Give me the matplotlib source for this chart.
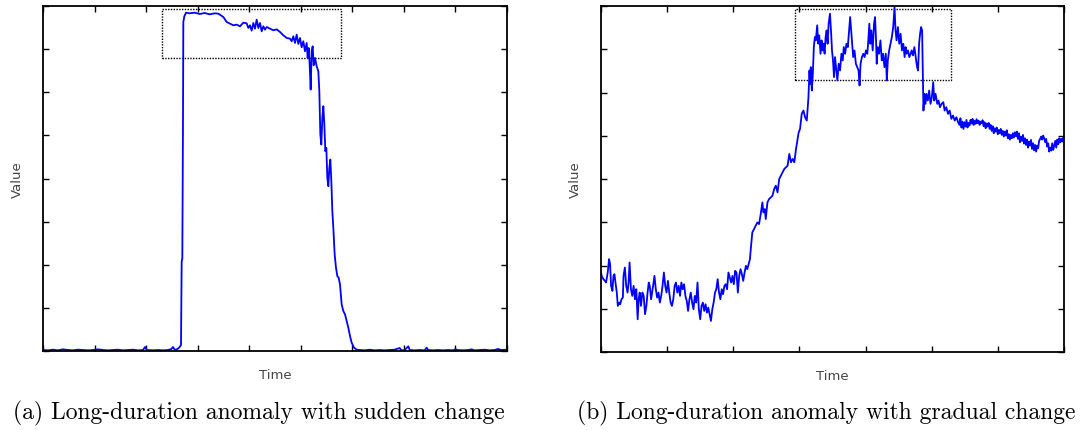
import matplotlib
matplotlib.use("Agg")
import matplotlib.pyplot as plt
from matplotlib.patches import Rectangle

# ---------------- data (a): sudden change ----------------
a_time = [0, 15, 30, 45, 60, 75, 90, 105, 120, 135, 150, 165, 180, 195, 210, 225, 240, 255, 270, 285,
          300, 306, 312, 330, 345, 360, 375, 385, 390, 395, 400, 406, 410, 414, 416, 418, 420, 421, 424,
          429, 440, 455, 470, 485, 500, 515, 526, 541, 551, 561, 571, 581, 591, 601, 611, 616, 621, 626,
          631, 636, 641, 646, 651, 656, 661, 666, 671, 681, 691, 701, 711, 721, 731, 741, 746, 751, 756,
          761, 766, 771, 776, 781, 786, 791, 794, 797, 800, 803, 806, 809, 812, 816, 821, 826, 829, 832,
          835, 838, 841, 844, 847, 850, 853, 856, 859, 862, 865, 868, 871, 875, 879, 883, 887, 891, 896,
          901, 906, 911, 916, 921, 926, 933, 941, 950, 965, 980, 995, 1010, 1025, 1040, 1055, 1070, 1075,
          1085, 1096, 1100, 1115, 1130, 1145, 1151, 1155, 1170, 1185, 1200, 1215, 1230, 1237, 1245, 1260,
          1275, 1286, 1295, 1310, 1325, 1340, 1355, 1365, 1375, 1392]
a_value = [3, 2, 4, 2, 5, 3, 2, 4, 3, 2, 3, 5, 3, 2, 3, 4, 2, 3, 4, 2,
           3, 12, 3, 2, 3, 2, 3, 6, 12, 4, 4, 8, 12, 18, 268, 278, 700, 988, 1005,
           1016, 1014, 1016, 1012, 1015, 1011, 1014, 1013, 1003, 988, 983, 978, 980, 975, 986, 984, 970, 978, 962,
           985, 968, 995, 970, 985, 960, 975, 965, 973, 968, 963, 966, 958, 948, 940, 938, 930, 945, 925,
           950, 922, 940, 912, 930, 900, 925, 880, 910, 860, 785, 900, 915, 858, 880, 855, 840, 780, 650,
           620, 700, 735, 680, 600, 610, 520, 495, 550, 575, 510, 420, 370, 290, 250, 225, 220, 200, 140,
           120, 110, 90, 70, 45, 25, 10, 4, 3, 2, 4, 2, 3, 2, 3, 4, 9, 2,
           3, 14, 3, 2, 3, 2, 10, 3, 2, 3, 2, 3, 2, 5, 3, 2,
           3, 5, 2, 3, 4, 2, 3, 6, 3, 4]
a_box = [358, 894, 879, 1027]   # time from, time to, value from, value to

# ---------------- data (b): gradual change ----------------
b_time = [0, 2, 7, 12, 15, 20, 24, 27, 30, 34, 37, 40, 43, 47, 50, 54, 57, 61, 65, 67, 71, 75, 79, 82,
          85, 89, 93, 97, 101, 105, 109, 112, 115, 119, 123, 127, 131, 135, 138, 142, 145, 149, 152, 155,
          159, 163, 167, 171, 175, 179, 183, 187, 191, 195, 199, 203, 207, 211, 215, 219, 223, 227, 231,
          235, 239, 243, 247, 251, 255, 259, 263, 267, 271, 275, 279, 283, 287, 291, 295, 299, 303, 307,
          311, 315, 319, 323, 327, 331, 335, 339, 343, 347, 351, 355, 359, 363, 367, 371, 375, 379, 383,
          387, 391, 395, 399, 403, 407, 411, 415, 419, 423, 427, 431, 435, 439, 443, 445,
          450, 455, 460, 465, 470, 475, 480, 483, 487, 490, 495, 500, 505, 510, 515, 520, 525, 530, 535,
          540, 545, 550, 555, 560, 565, 570, 575, 580, 585, 588, 592,
          597, 602, 607, 612, 617, 620, 622, 624, 627, 630, 633, 636, 639, 643, 646, 649, 653, 656, 659,
          662, 665, 668, 671, 674, 677, 681, 684, 687, 690, 693, 696, 699, 703, 707, 711, 715, 719, 722,
          726, 730, 734, 738, 741, 744, 747, 750, 754, 758, 762, 766, 769, 772, 776, 780, 784, 788, 792,
          795, 798, 801, 804, 808, 812, 815, 818, 820, 823, 827, 831, 835, 839, 843, 847, 850, 853, 857,
          861, 865, 869, 873, 876, 879, 883, 887, 891, 895, 899, 903, 906, 909, 913, 917, 921, 924, 928,
          932, 936, 940, 943, 946, 949, 952, 955, 957, 959, 962, 965, 968, 972, 976, 980, 984, 988, 991,
          995, 1000, 1004, 1008, 1013, 1018, 1022, 1027, 1032, 1037, 1042, 1047, 1052, 1057, 1062,
          1066, 1069, 1072, 1075, 1078, 1081, 1084, 1087, 1090, 1093, 1096, 1099, 1102, 1105, 1108, 1111,
          1114, 1117, 1120, 1123, 1126, 1129, 1132, 1135, 1138, 1141, 1144, 1147, 1150, 1153, 1156, 1159,
          1162, 1165, 1168, 1171, 1174, 1177, 1180, 1183, 1186, 1189, 1192, 1195, 1198, 1201, 1204, 1207,
          1210, 1213, 1216, 1219, 1222, 1225, 1228, 1231, 1234, 1237, 1240, 1243, 1246, 1249, 1252, 1255,
          1258, 1261, 1264, 1267, 1270, 1273, 1276, 1279, 1282, 1285, 1288, 1291, 1294, 1297, 1300, 1303,
          1306, 1309, 1312, 1315, 1318, 1321, 1324, 1327, 1330, 1333, 1336, 1339, 1342, 1345, 1348, 1351,
          1354, 1357, 1360, 1363, 1366, 1369, 1372, 1375, 1377]
b_value = [238, 228, 218, 213, 208, 238, 278, 263, 198, 183, 228, 233, 208, 178, 138, 148, 143, 158, 163, 228,
           253, 198, 178, 208, 268, 188, 168, 198, 158, 188, 98, 158, 178, 138, 178, 168, 113, 138, 173, 208,
           198, 158, 178, 198, 228, 188, 163, 178, 148, 168, 198, 238, 198, 178, 213, 178, 148, 138, 158, 198,
           208, 178, 198, 168, 208, 188, 203, 168, 153, 123, 158, 178, 148, 128, 168, 148, 208, 128, 98, 138,
           148, 123, 143, 118, 133, 113, 93, 128, 148, 178, 188, 218, 178, 158, 188, 173, 198, 203, 188, 238,
           223, 208, 228, 203, 243, 238, 178, 228, 248, 233, 213, 238, 258, 248, 263, 278, 303,
           358, 368, 378, 388, 383, 413, 448, 418, 428, 398, 448, 458, 463, 468, 488, 498, 478, 518, 528,
           538, 548, 553, 558, 593, 568, 578, 568, 608, 638, 658, 668,
           713, 723, 703, 693, 763, 843, 803, 853, 783, 833, 913, 943, 933, 978, 923, 948, 893, 933, 903,
           923, 893, 943, 963, 923, 983, 1013, 963, 903, 873, 823, 883, 853, 813, 863, 843, 893, 873, 913,
           893, 923, 913, 963, 1003, 963, 923, 883, 903, 863, 853, 843, 798, 863, 883, 893, 883, 903, 893,
           933, 983, 923, 963, 903, 983, 1003, 933, 863, 913, 893, 933, 873, 893, 853, 893, 813, 873, 903,
           923, 943, 973, 1033, 963, 933, 973, 923, 953, 903, 923, 883, 913, 893, 903, 883, 893, 903, 888,
           913, 883, 853, 843, 923, 953, 973, 963, 843, 723, 773, 743, 773, 753, 783, 743, 763, 808, 753,
           773, 743, 753, 733, 743, 748, 723, 733, 713, 723, 698, 708, 693, 703, 688,
           680, 700, 672, 690, 668, 688, 675, 695, 672, 686, 678, 695, 684, 698, 680, 692,
           683, 697, 685, 693, 680, 690, 685, 694, 676, 688, 670, 684, 675, 686, 668, 680,
           662, 676, 655, 670, 660, 672, 652, 665, 655, 668, 650, 662, 645, 660, 648, 664,
           640, 652, 636, 650, 640, 655, 642, 658, 646, 660, 638, 655, 628, 645, 632, 650,
           624, 640, 620, 636, 612, 630, 618, 635, 608, 625, 604, 620, 600, 618, 610, 632,
           638, 645, 636, 648, 640, 628, 638, 615, 625, 600, 612, 603, 625, 605, 618, 632,
           612, 636, 622, 640, 628, 638, 630, 642, 635]
b_box = [577, 1040, 814, 1026]

captions = ["(a) Long-duration anomaly with sudden change",
            "(b) Long-duration anomaly with gradual change"]

W, H = 1089, 431
fig = plt.figure(figsize=(W / 100, H / 100), dpi=100)


def make_axes(l, r, t, b):
    return fig.add_axes([l / W, 1 - b / H, (r - l) / W, (b - t) / H])


panels = [
    (make_axes(43, 507, 7, 352), a_time, a_value, a_box, 1392, 10, 259),
    (make_axes(601, 1064, 7, 353), b_time, b_value, b_box, 1377, 8, 826),
]

for i, (ax, t, v, box, tmax, nxt, cx) in enumerate(panels):
    ax.plot(t, v, color="#0000ff", lw=1.3)
    ax.add_patch(Rectangle((box[0], box[2]), box[1] - box[0], box[3] - box[2],
                           fill=False, ec="black", lw=1.0, ls=(0, (1, 1))))
    ax.set_xlim(0, tmax)
    ax.set_ylim(0, 1036)
    ax.set_xticks([tmax * k / (nxt - 1) for k in range(nxt)])
    ax.set_yticks([1036 * k / 8 for k in range(9)])
    ax.tick_params(direction="in", length=4, width=1, top=True, right=True,
                   labelbottom=False, labelleft=False)
    for s in ax.spines.values():
        s.set_linewidth(1.3)
    ax.set_xlabel("Time", fontsize=9.5, color="#444444", labelpad=12)
    ax.set_ylabel("Value", fontsize=9.5, color="#444444", labelpad=14)
    fig.text(cx / W, 1 - 413 / H, captions[i], ha="center", va="center",
             fontsize=17, family="cmr10")

fig.savefig("out.png", dpi=100)
